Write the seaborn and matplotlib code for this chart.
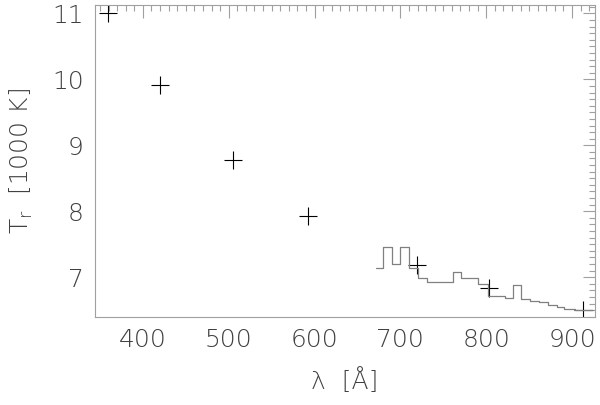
import numpy as np
import pandas as pd
import matplotlib
matplotlib.use('Agg')
import matplotlib.pyplot as plt
import seaborn as sns
from matplotlib.ticker import MultipleLocator

# --------------- DATA -----------------
# radiation temperature points (crosses)
cross_lam = [359, 420, 505, 592, 719, 803, 913]
cross_T = [11.0, 9.91, 8.78, 7.93, 7.19, 6.83, 6.50]

# step curve (left edge of each bin, value in bin), last edge closes it
step_lam = [672, 680, 690, 700, 710, 720, 731, 761, 771, 791, 802, 822,
            831, 841, 851, 861, 872, 882, 891, 903, 924]
step_T = [7.14, 7.45, 7.20, 7.45, 7.14, 6.99, 6.92, 7.08, 6.99, 6.90, 6.72,
          6.69, 6.88, 6.67, 6.64, 6.62, 6.58, 6.55, 6.52, 6.50, 6.50]

sns.set_style('white')
plt.rcParams['font.family'] = ['DejaVu Sans']

fig = plt.figure(figsize=(6.0, 4.05), dpi=100)
ax = fig.add_axes([0.158, 0.218, 0.834, 0.770])

steps = pd.DataFrame({'lam': step_lam, 'T': step_T})
sns.lineplot(data=steps, x='lam', y='T', ax=ax, drawstyle='steps-post',
             color='#808080', linewidth=0.9, sort=False, estimator=None)

pts = pd.DataFrame({'lam': cross_lam, 'T': cross_T})
sns.scatterplot(data=pts, x='lam', y='T', ax=ax, marker='+', s=170,
                color='black', linewidth=0.8)

ax.set_xlim(344, 927)
ax.set_ylim(6.40, 11.13)
ax.xaxis.set_major_locator(MultipleLocator(100))
ax.xaxis.set_minor_locator(MultipleLocator(10))
ax.yaxis.set_major_locator(MultipleLocator(1))
ax.yaxis.set_minor_locator(MultipleLocator(0.1))

for s in ax.spines.values():
    s.set_color('#a0a0a0')
    s.set_linewidth(0.8)
ax.tick_params(which='both', direction='in', top=True, right=True,
               color='#a0a0a0', width=0.8, labelsize=18, labelcolor='#404040',
               pad=8)
ax.tick_params(which='major', length=9)
ax.tick_params(which='minor', length=4)
for lab in ax.get_xticklabels() + ax.get_yticklabels():
    lab.set_fontweight('light')

ax.set_xlabel('λ  [Å]', fontsize=18, color='#404040', fontweight='light', labelpad=12)
ax.set_ylabel(r'T$_\mathregular{r}$  [1000 K]', fontsize=18, color='#404040',
              fontweight='light', labelpad=12)

fig.savefig('out.png', dpi=100)
